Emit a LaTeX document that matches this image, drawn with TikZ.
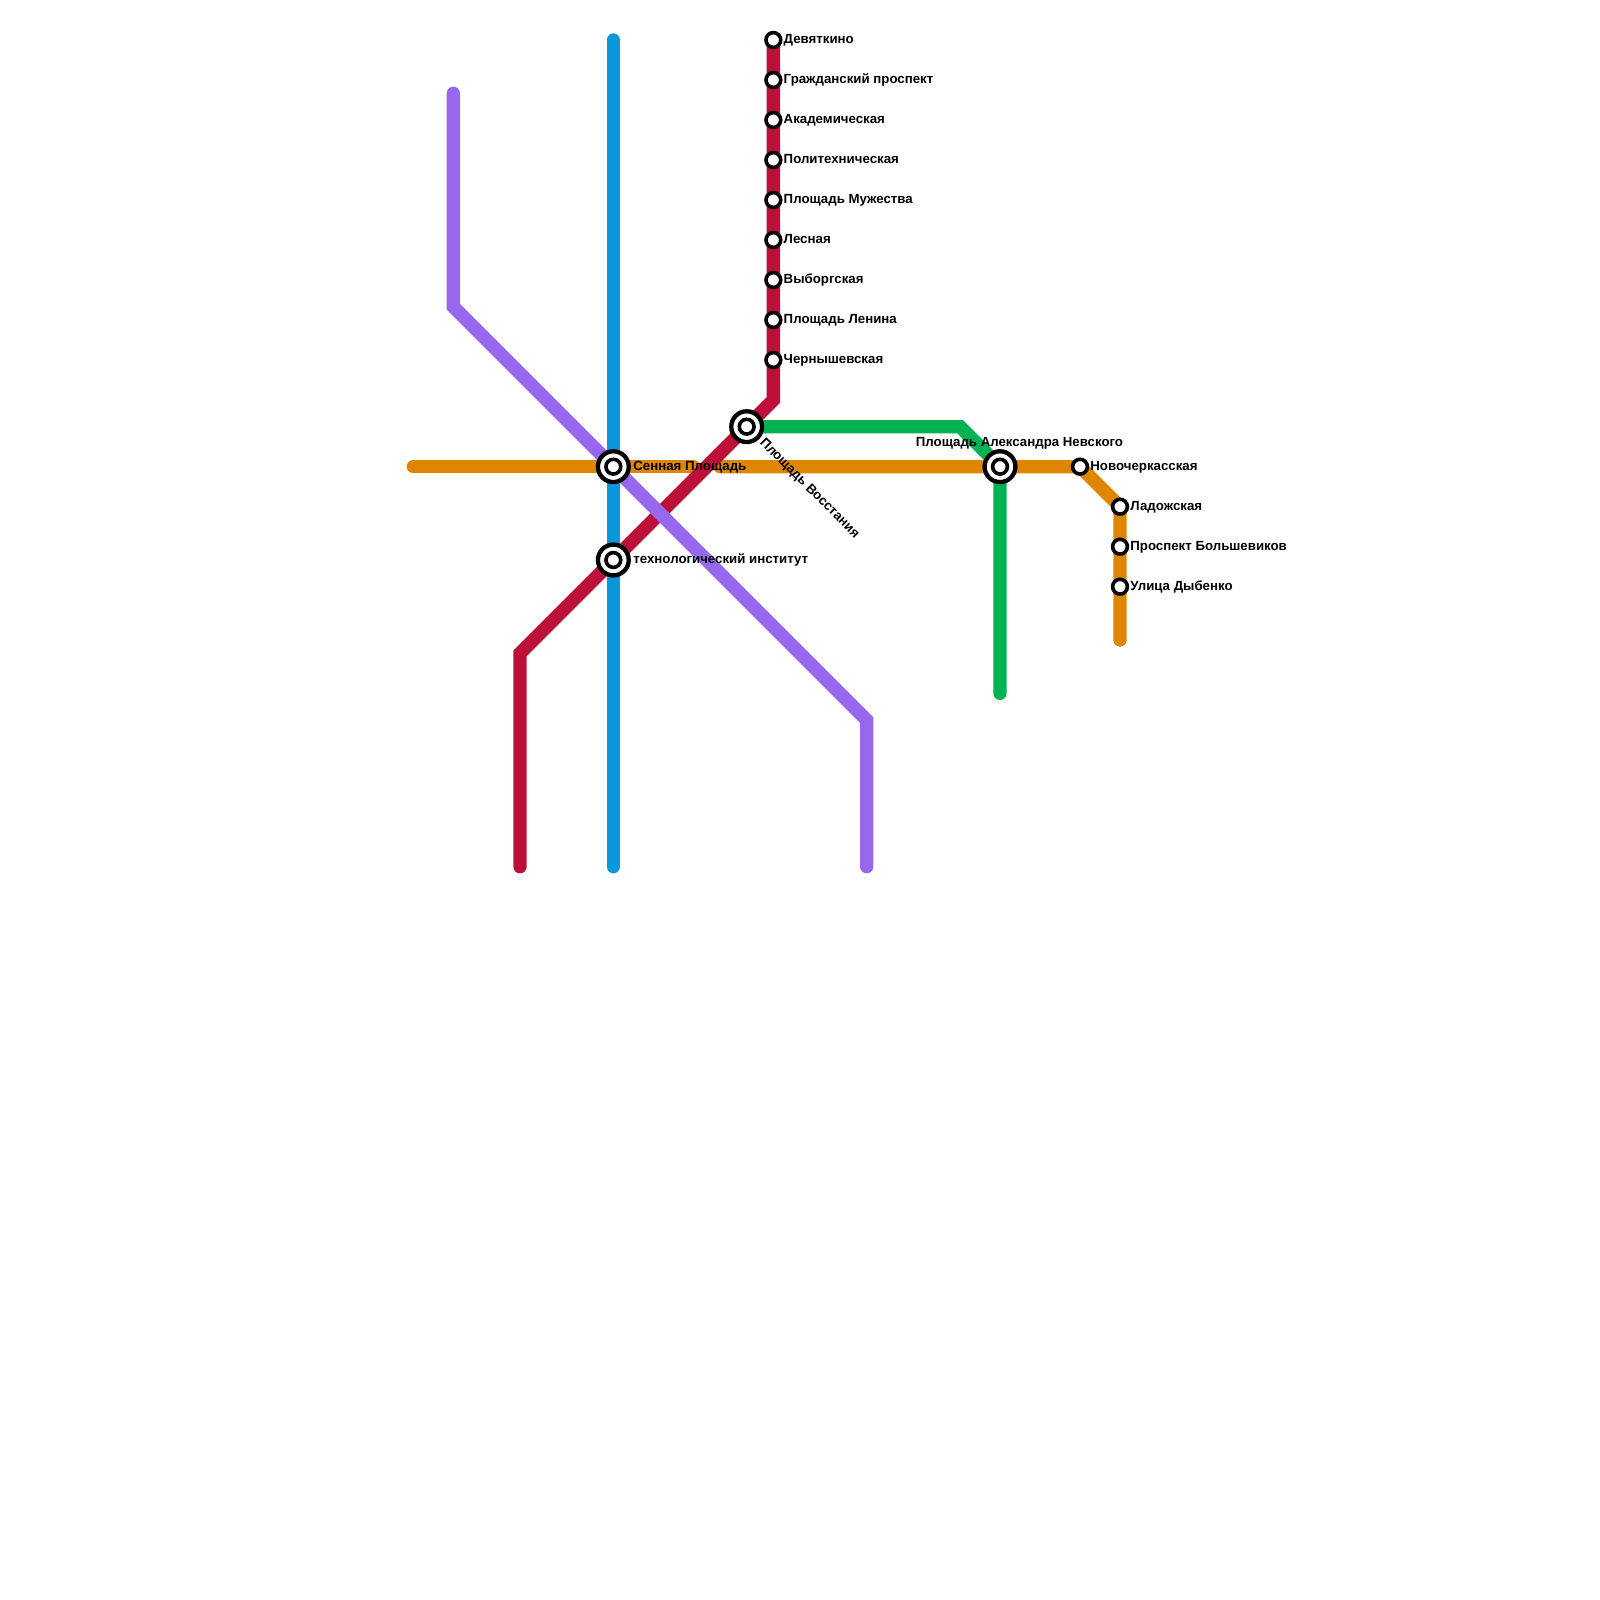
\documentclass[tikz,border=0pt]{standalone}
\usepackage{fontspec}
\setmainfont{Liberation Sans}
\definecolor{redline}{HTML}{BD1038}
\definecolor{blueline}{HTML}{0A98DA}
\definecolor{purpleline}{HTML}{9768EE}
\definecolor{orangeline}{HTML}{DF8600}
\definecolor{greenline}{HTML}{00B251}
\tikzset{
metroline/.style={line width=6.67pt,line cap=round,line join=miter},
station/.style={circle,draw=black,fill=white,line width=1.8pt,minimum size=7.4pt,inner sep=0pt},
interchange/.style={circle,draw=black,fill=white,line width=2.15pt,minimum size=15.4pt,inner sep=0pt},
stationlabel/.style={font=\fontsize{6.63pt}{7pt}\selectfont\bfseries,inner sep=0pt,anchor=base west},
}
\begin{document}
\begin{tikzpicture}[x=.5pt,y=-.5pt]
\useasboundingbox (0,0) rectangle (1600,1600);
\coordinate (sennaya) at (613.33,466.67);
\coordinate (tehno) at (613.33,560);
\coordinate (vosstaniya) at (746.67,426.67);
\coordinate (nevsky) at (1000,466.67);
\coordinate (redbend) at (773.33,400);
\coordinate (redlow) at (520,653.33);
\coordinate (redend) at (520,866.67);
\coordinate (redtop) at (773.33,40);
\coordinate (bluetop) at (613.33,40);
\coordinate (blueend) at (613.33,866.67);
\coordinate (purpletop) at (453.33,93.33);
\coordinate (purplebend) at (453.33,306.67);
\coordinate (purplelow) at (866.67,720);
\coordinate (purpleend) at (866.67,866.67);
\coordinate (orangestart) at (413.33,466.67);
\coordinate (orangegapa) at (693.33,466.67);
\coordinate (orangegapb) at (720,466.67);
\coordinate (orangelow) at (1120,506.67);
\coordinate (orangekink) at (1080,466.67);
\coordinate (orangeend) at (1120,640);
\coordinate (greenbend) at (960,426.67);
\coordinate (greenend) at (1000,693.33);
\draw[metroline,orangeline] (orangestart)--(orangegapa);
\draw[metroline,orangeline] (orangegapb)--(orangekink)--(orangelow)--(orangeend);
\draw[metroline,greenline] (vosstaniya)--(greenbend)--(nevsky)--(greenend);
\draw[metroline,blueline] (bluetop)--(blueend);
\draw[metroline,redline] (redtop)--(redbend)--(vosstaniya)--(tehno)--(redlow)--(redend);
\draw[metroline,purpleline] (purpletop)--(purplebend)--(sennaya)--(purplelow)--(purpleend);
\foreach \N/\X/\Y/\L in {dev/773.33/40/Девяткино,grazh/773.33/80/Гражданский проспект,akad/773.33/120/Академическая,polit/773.33/160/Политехническая,muzh/773.33/200/Площадь Мужества,lesn/773.33/240/Лесная,vyb/773.33/280/Выборгская,lenin/773.33/320/Площадь Ленина,chern/773.33/360/Чернышевская,novoch/1080/466.67/Новочеркасская,lad/1120/506.67/Ладожская,bolsh/1120/546.67/Проспект Большевиков,dyb/1120/586.67/Улица Дыбенко}{
\node[station] (\N) at (\X,\Y) {};
\node[stationlabel] (\N-label) at ({\X+10},{\Y+3.5}) {\L};}
\foreach \N/\X/\Y in {sen/613.33/466.67,teh/613.33/560,vos/746.67/426.67,nev/1000/466.67}{
\node[interchange] (\N-outer) at (\X,\Y) {};
\node[station] (\N) at (\X,\Y) {};}
\node[stationlabel] (sen-label) at (633,470.2) {Сенная Площадь};
\node[stationlabel] (teh-label) at (633,563.5) {технологический институт};
\node[stationlabel] (nev-label) at (915.5,446) {Площадь Александра Невского};
\node[stationlabel,rotate=-45] (vos-label) at (759,443) {Площадь Восстания};
\end{tikzpicture}
\end{document}
